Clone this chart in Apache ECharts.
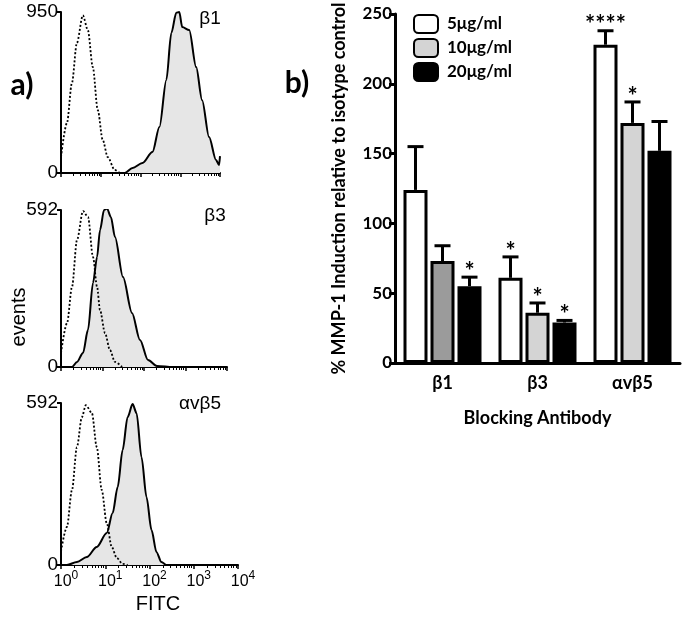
<!DOCTYPE html>
<html>
<head>
<meta charset="utf-8">
<script src="https://cdn.jsdelivr.net/npm/echarts@6/dist/echarts.min.js"></script>
<style>
html, body { margin: 0; padding: 0; background: #fff; }
#main { width: 685px; height: 619px; }
</style>
</head>
<body>
<div id="main"></div>
<script>
// flow cytometry histograms: [FITC, events]
var b1Iso = [[1, 94], [1.41, 295], [1.88, 530], [2.51, 767], [3.55, 930], [4.73, 844], [6.31, 625], [8.41, 372], [11.2, 195], [15, 94], [22.4, 18], [30, 0]];
var b1Ab = [[1, 0], [40, 0], [63, 30], [112, 59], [200, 124], [299, 271], [447, 549], [596, 826], [794, 945], [944, 950], [1122, 861], [1679, 844], [2512, 625], [3548, 430], [5309, 212], [7943, 77], [9441, 47], [10000, 100]];
var b3Iso = [[1, 53], [1.4, 166], [1.84, 302], [2.43, 479], [3.39, 588], [4.47, 566], [5.9, 415], [7.4, 302], [8.7, 215], [11.5, 128], [15.1, 64], [20, 19], [29.5, 0]];
var b3Ab = [[1, 0], [1.84, 0], [2.43, 19], [3.39, 53], [4.47, 140], [5.9, 317], [7.4, 415], [8.7, 516], [10.9, 592], [12.8, 598], [15.9, 566], [20, 490], [31.2, 339], [51.4, 204], [80, 102], [125, 26], [205, 4], [500, 0], [10000, 0]];
var avb5Iso = [[1, 50], [1.36, 139], [1.77, 274], [2.29, 431], [2.96, 540], [3.64, 584], [5, 555], [6.43, 431], [8.33, 274], [10.8, 153], [14, 66], [18.2, 26], [24.7, 4], [32, 0]];
var avb5Ab = [[1, 0], [1.36, 0], [2.29, 11], [3.84, 29], [6.43, 66], [10.8, 117], [14.7, 190], [19.1, 285], [24.7, 420], [32, 540], [41.5, 588], [51, 555], [66, 394], [85.6, 248], [111, 128], [144, 47], [186, 11], [241, 0], [10000, 0]];
var histMax = [950, 592, 592];
var histNames = ['β1', 'β3', 'αvβ5'];

// bar chart
var cats = ['β1', 'β3', 'αvβ5'];
var doses = ['5μg/ml', '10μg/ml', '20μg/ml'];
var mean5 = [124, 61, 228];
var mean10 = [73, 36, 172];
var mean20 = [55, 29, 152];
var sem5 = [31, 15, 10];
var sem10 = [11, 7, 15];
var sem20 = [6.5, 1.5, 21];
var stars5 = ['', '*', '****'];
var stars10 = ['', '*', '*'];
var stars20 = ['*', '*', ''];

var means = [mean5, mean10, mean20];
var sems = [sem5, sem10, sem20];
var stars = [stars5, stars10, stars20];
var fills = ['#ffffff', '#d4d4d4', '#000000'];

var chart = echarts.init(document.getElementById('main'));

var histGrids = [
    { left: 61, width: 159, top: 12, height: 161 },
    { left: 61, width: 166, top: 210, height: 157 },
    { left: 61, width: 177, top: 403, height: 162 }
];
var pairs = [[b1Ab, b1Iso], [b3Ab, b3Iso], [avb5Ab, avb5Iso]];

var grids = histGrids.concat([{ left: 395, right: 5, top: 14, bottom: 256 }]);
var xAxes = [], yAxes = [], series = [];
var plain = 'Liberation Sans';

histGrids.forEach(function (g, i) {
    xAxes.push({
        gridIndex: i, type: 'log', logBase: 10, min: 1, max: 10000,
        axisLine: { lineStyle: { color: '#000', width: 2 } },
        axisTick: { show: true, length: 4, lineStyle: { color: '#000', width: 1.5 } },
        minorTick: { show: true, length: 3, splitNumber: 9, lineStyle: { color: '#000', width: 1 } },
        splitLine: { show: false },
        axisLabel: {
            show: i === 2, margin: 5, color: '#000', padding: [0, 0, 0, 10],
            formatter: function (v) { return '{b|10}{s|' + Math.round(Math.log10(v)) + '}'; },
            rich: {
                b: { fontSize: 16, fontFamily: plain, color: '#000', lineHeight: 20, verticalAlign: 'bottom' },
                s: { fontSize: 12, fontFamily: plain, color: '#000', lineHeight: 20, verticalAlign: 'top' }
            }
        }
    });
    yAxes.push({
        gridIndex: i, type: 'value', min: 0, max: histMax[i], interval: histMax[i],
        axisLine: { show: true, lineStyle: { color: '#000', width: 2 } },
        axisTick: { show: true, length: 4, lineStyle: { color: '#000', width: 2 } },
        axisLabel: { fontSize: 19, color: '#000', fontFamily: plain, margin: 3 },
        splitLine: { show: false }
    });
    series.push({
        type: 'line', xAxisIndex: i, yAxisIndex: i, data: pairs[i][0],
        showSymbol: false, smooth: 0.3, smoothMonotone: 'x', silent: true,
        lineStyle: { color: '#000', width: 2 },
        areaStyle: { color: '#e6e6e6', opacity: 1 }
    });
    series.push({
        type: 'line', xAxisIndex: i, yAxisIndex: i, data: pairs[i][1],
        showSymbol: false, smooth: 0.3, smoothMonotone: 'x', silent: true,
        lineStyle: { color: '#000', width: 1.8, type: [2, 2] }
    });
});

var boldFont = 'Lato';

xAxes.push({
    gridIndex: 3, type: 'category', data: cats,
    axisLine: { lineStyle: { color: '#000', width: 3 } },
    axisTick: { alignWithLabel: true, length: 6, lineStyle: { color: '#000', width: 3 } },
    axisLabel: { fontSize: 18, fontWeight: 'bold', color: '#000', margin: 11, fontFamily: boldFont },
    name: 'Blocking Antibody', nameLocation: 'middle', nameGap: 46,
    nameTextStyle: { fontSize: 18, fontWeight: 'bold', color: '#000', fontFamily: boldFont }
});
yAxes.push({
    gridIndex: 3, type: 'value', min: 0, max: 250, interval: 50,
    axisLine: { show: true, lineStyle: { color: '#000', width: 3 } },
    axisTick: { show: true, length: 6, lineStyle: { color: '#000', width: 3 } },
    axisLabel: { fontSize: 17, fontWeight: 'bold', color: '#000', margin: 3, fontFamily: boldFont },
    splitLine: { show: false },
    name: '% MMP-1 Induction relative to isotype control', nameLocation: 'middle', nameGap: 47,
    nameTextStyle: { fontSize: 18, fontWeight: 'bold', color: '#000', fontFamily: boldFont }
});

doses.forEach(function (d, k) {
    series.push({
        type: 'bar', name: d, xAxisIndex: 3, yAxisIndex: 3,
        barWidth: 24, barGap: '12.5%', silent: true,
        itemStyle: { color: fills[k], borderColor: '#000', borderWidth: 3 },
        data: means[k].map(function (v, i) {
            // the β1 10μg bar is printed in a darker grey
            if (k === 1 && i === 0) return { value: v, itemStyle: { color: '#9b9b9b' } };
            return v;
        })
    });
});

var errData = [];
doses.forEach(function (d, k) {
    cats.forEach(function (c, i) {
        errData.push([i, means[k][i], sems[k][i], k]);
    });
});

series.push({
    type: 'custom', xAxisIndex: 3, yAxisIndex: 3, silent: true, z: 5,
    data: errData,
    encode: { x: 0, y: 1 },
    renderItem: function (params, api) {
        var i = api.value(0), m = api.value(1), e = api.value(2), k = api.value(3);
        var base = api.coord([i, m]);
        var top = api.coord([i, m + e]);
        var x = base[0] + (k - 1) * 27;
        var cap = 8;
        var st = { stroke: '#000', lineWidth: 3 };
        return {
            type: 'group',
            children: [
                { type: 'line', shape: { x1: x, y1: base[1], x2: x, y2: top[1] }, style: st },
                { type: 'line', shape: { x1: x - cap, y1: top[1], x2: x + cap, y2: top[1] }, style: st },
                {
                    type: 'text', x: x, y: top[1] + 7,
                    style: {
                        text: stars[k][i], align: 'center', verticalAlign: 'bottom',
                        font: 'bold 24px Lato', fill: '#000'
                    }
                }
            ]
        };
    }
});

var graphics = [
    { type: 'text', x: 22, y: 85, style: { text: 'a)', font: 'bold 30px Lato', fill: '#000', align: 'center', verticalAlign: 'middle' } },
    { type: 'text', x: 297, y: 83, style: { text: 'b)', font: 'bold 30px Lato', fill: '#000', align: 'center', verticalAlign: 'middle' } },
    { type: 'text', x: 210, y: 19, style: { text: histNames[0], font: '19px ' + plain, fill: '#000', align: 'center', verticalAlign: 'middle' } },
    { type: 'text', x: 215, y: 216, style: { text: histNames[1], font: '19px ' + plain, fill: '#000', align: 'center', verticalAlign: 'middle' } },
    { type: 'text', x: 200, y: 404, style: { text: histNames[2], font: '19px ' + plain, fill: '#000', align: 'center', verticalAlign: 'middle' } },
    { type: 'text', x: 19, y: 317, rotation: Math.PI / 2, style: { text: 'events', font: '20px ' + plain, fill: '#000', align: 'center', verticalAlign: 'middle' } },
    { type: 'text', x: 158, y: 604, style: { text: 'FITC', font: '20px ' + plain, fill: '#000', align: 'center', verticalAlign: 'middle' } }
];

var option = {
    animation: false,
    backgroundColor: '#fff',
    grid: grids,
    xAxis: xAxes,
    yAxis: yAxes,
    legend: {
        data: doses, orient: 'vertical', left: 408, top: 9,
        itemWidth: 24, itemHeight: 18, itemGap: 4, icon: 'roundRect',
        selectedMode: false,
        textStyle: { fontWeight: 'bold', fontSize: 17, fontFamily: boldFont, color: '#000', padding: [0, 0, 0, 4] }
    },
    graphic: graphics,
    series: series
};

chart.setOption(option);
</script>
</body>
</html>
